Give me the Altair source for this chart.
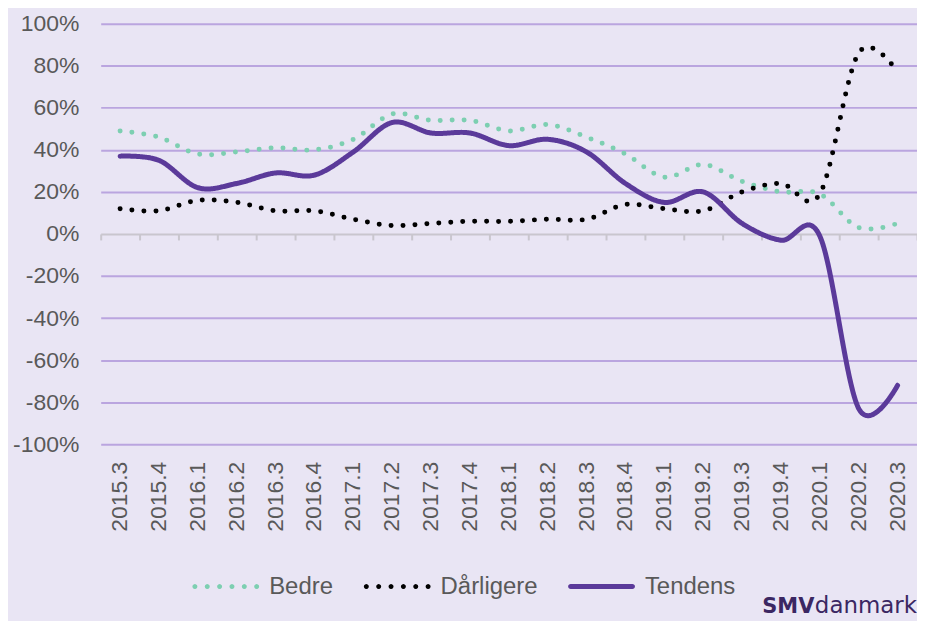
import math
import altair as alt
import pandas as pd

quarters = ["2015.3", "2015.4", "2016.1", "2016.2", "2016.3", "2016.4",
            "2017.1", "2017.2", "2017.3", "2017.4", "2018.1", "2018.2",
            "2018.3", "2018.4", "2019.1", "2019.2", "2019.3", "2019.4",
            "2020.1", "2020.2", "2020.3"]
bedre = [49, 46, 38, 39, 41, 40, 45, 57, 54, 54, 49, 52, 46, 38, 27, 33, 25, 20, 19, 3, 5]
darligere = [12, 11, 16, 15, 11, 11, 7, 4, 5, 6, 6, 7, 7, 14, 12, 11, 20, 24, 19, 86, 77]
tendens = [37, 35, 22, 24, 29, 28, 39, 53, 48, 48, 42, 45, 39, 24, 15, 20, 5, -3, -1, -83, -72]

series_names = ["Bedre", "Dårligere", "Tendens"]
series_colors = ["#7DCFB1", "#000000", "#5B3A9A"]
y_ticks = [-100, -80, -60, -40, -20, 0, 20, 40, 60, 80, 100]
logo_bold = ["SMV"]
logo_light = ["danmark"]

rows = []
for name, vals in zip(series_names, [bedre, darligere, tendens]):
    for q, v in zip(quarters, vals):
        rows.append({"kvartal": q, "serie": name, "vaerdi": v})
df = pd.DataFrame(rows)

FONT = "Liberation Sans"
TXT = "#595959"
BG = "#E9E5F4"
GRID = "#BAA5DF"
AXISGRAY = "#C9C6CE"
W, H = 819, 422


# legend symbol shapes (unit-square SVG paths)
def poly_dot(cx, rad, n=12):
    pts = []
    for k in range(n):
        a = 2 * math.pi * k / n
        pts.append(f"{cx + rad * math.cos(a):.4f},{rad * math.sin(a):.4f}")
    return "M" + " L".join(pts) + " Z"


def dots_path(n=6, rad=0.075):
    return " ".join(poly_dot(-1 + rad + i * (2 - 2 * rad) / (n - 1), rad) for i in range(n))


def bar_path(rad=0.075):
    pts = [f"{-1 + rad:.4f},{-rad:.4f}", f"{1 - rad:.4f},{-rad:.4f}"]
    for k in range(1, 8):
        a = -math.pi / 2 + math.pi * k / 8
        pts.append(f"{1 - rad + rad * math.cos(a):.4f},{rad * math.sin(a):.4f}")
    pts.append(f"{1 - rad:.4f},{rad:.4f}")
    pts.append(f"{-1 + rad:.4f},{rad:.4f}")
    for k in range(1, 8):
        a = math.pi / 2 + math.pi * k / 8
        pts.append(f"{-1 + rad + rad * math.cos(a):.4f},{rad * math.sin(a):.4f}")
    return "M" + " L".join(pts) + " Z"


symbol_paths = [dots_path(), dots_path(), bar_path()]

x_scale = alt.Scale(type="band", paddingInner=0, paddingOuter=0)
y_scale = alt.Scale(domain=[-100, 100], nice=False, zero=False)
y_axis = alt.Axis(title=None, values=y_ticks, labelExpr="datum.value + '%'",
                  labelFont=FONT, labelFontSize=23, labelColor=TXT,
                  labelPadding=22, ticks=False, tickSize=0, domain=False,
                  grid=True, gridWidth=2,
                  gridColor={"condition": {"test": "datum.value === 0", "value": "transparent"},
                             "value": GRID})

legend_def = dict(title=None, orient="none", legendX=92, legendY=531, direction="horizontal",
                  symbolSize=4489, symbolStrokeWidth=0, symbolOpacity=1,
                  labelFont=FONT, labelFontSize=24, labelColor=TXT, labelOffset=10,
                  columnPadding=30, padding=0)

lines = alt.Chart(df).mark_line(interpolate="cardinal", strokeWidth=5, strokeCap="round").encode(
    x=alt.X("kvartal:N", sort=quarters, bandPosition=0.5, scale=x_scale,
            axis=alt.Axis(title=None, orient="bottom", labels=False, ticks=True, tickBand="extent",
                          tickSize=6, tickColor=AXISGRAY, tickWidth=2,
                          domain=True, domainColor=AXISGRAY, domainWidth=2,
                          grid=False, offset=-H / 2)),
    y=alt.Y("vaerdi:Q", scale=y_scale, axis=y_axis),
    stroke=alt.Stroke("serie:N", scale=alt.Scale(domain=series_names, range=series_colors),
                      legend=alt.Legend(**legend_def)),
    strokeDash=alt.StrokeDash("serie:N", scale=alt.Scale(domain=series_names,
                                                         range=[[0, 12], [0, 12], [1, 0]]),
                              legend=alt.Legend(**legend_def)),
)

# invisible point layer: bottom category labels and the legend's symbol shapes
label_layer = alt.Chart(df).mark_point(filled=True, opacity=0).encode(
    x=alt.X("kvartal:N", sort=quarters, bandPosition=0.5, scale=x_scale,
            axis=alt.Axis(title=None, orient="bottom", labelAngle=-90, labelFont=FONT, labelFontSize=23,
                          labelColor=TXT, ticks=False, tickSize=0, domain=False, grid=False,
                          labelPadding=17)),
    y=alt.Y("vaerdi:Q", scale=y_scale, axis=y_axis),
    color=alt.Color("serie:N", scale=alt.Scale(domain=series_names, range=series_colors),
                    legend=alt.Legend(**legend_def)),
    shape=alt.Shape("serie:N", scale=alt.Scale(domain=series_names, range=symbol_paths),
                    legend=alt.Legend(**legend_def)),
)

logo1 = alt.Chart(pd.DataFrame({"t": logo_bold})).mark_text(
    align="right", baseline="alphabetic", font="DejaVu Sans", fontSize=21, fontWeight="bold",
    color="#3B2762").encode(x=alt.value(716), y=alt.value(591), text="t:N")
logo2 = alt.Chart(pd.DataFrame({"t": logo_light})).mark_text(
    align="right", baseline="alphabetic", font="DejaVu Sans", fontSize=23, fontWeight="normal",
    color="#3B2762").encode(x=alt.value(819), y=alt.value(591), text="t:N")

chart = alt.layer(lines, label_layer, logo1, logo2).resolve_axis(x="independent").properties(
    width=W, height=H,
    autosize=alt.AutoSizeParams(type="none"),
    padding={"left": 93, "top": 14.7, "right": 0, "bottom": 176},
    background=BG,
).configure_view(stroke=None)

chart.save("out.html", embed_options={"renderer": "svg", "actions": False})
